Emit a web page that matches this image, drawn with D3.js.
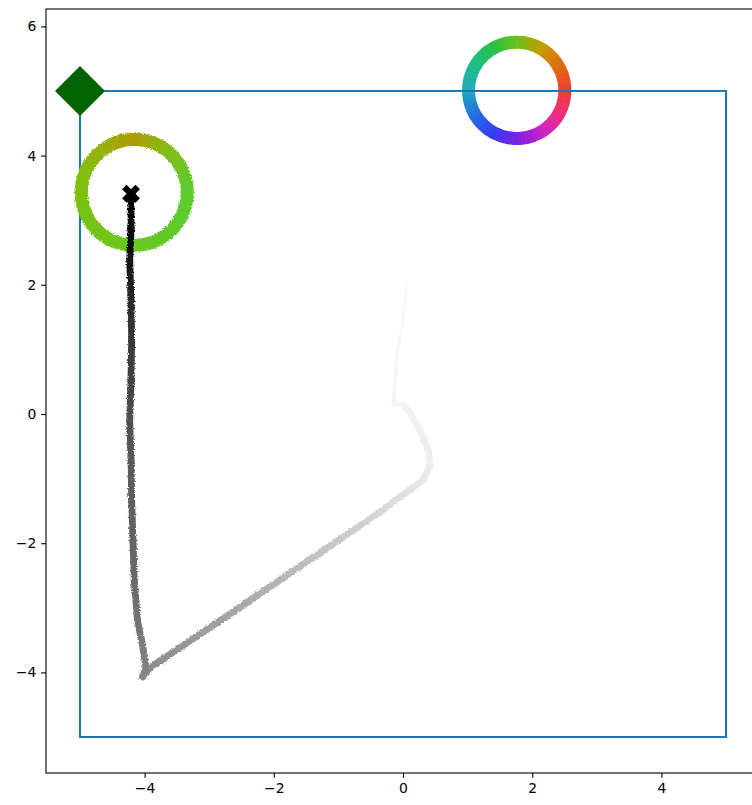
<!DOCTYPE html>
<html>
<head>
<meta charset="utf-8">
<script src="https://cdn.jsdelivr.net/npm/d3@7"></script>
<style>
  html, body { margin: 0; padding: 0; background: #fff; }
  svg { display: block; font-family: "DejaVu Sans", sans-serif; }
</style>
</head>
<body>
<svg id="chart" width="752" height="805"></svg>
<script>
// ---- data ----
const xTicks = [-4, -2, 0, 2, 4];
const yTicks = [-4, -2, 0, 2, 4, 6];

// arena boundary
const boxX = [-5, 5, 5, -5, -5];
const boxY = [5, 5, -5, -5, 5];

// goal marker
const goal = { x: -5, y: 5 };

// agent trajectory (progress 0 = start, 1 = end)
const trajX = [-4.21, -4.21, -4.23, -4.21, -4.20, -4.21, -4.23, -4.21, -4.20, -4.18, -4.16, -4.11, -4.02, -3.98, -4.03,
               -3.92, -2.52, -0.98, -0.36, 0.31, 0.42, 0.39, 0.26, 0.11, 0.00, -0.15, -0.09, 0.00, 0.06];
const trajY = [3.41, 2.85, 2.38, 1.76, 1.15, 0.53, -0.09, -0.71, -1.33, -1.95, -2.57, -3.19, -3.65, -3.93, -4.07,
               -3.93, -2.99, -1.94, -1.52, -1.02, -0.80, -0.56, -0.25, 0.02, 0.15, 0.15, 0.94, 1.46, 2.03];
const trajProgress = [0.00, 0.04, 0.08, 0.16, 0.22, 0.26, 0.31, 0.35, 0.37, 0.39, 0.41, 0.45, 0.49, 0.51, 0.53,
                      0.55, 0.66, 0.79, 0.84, 0.91, 0.925, 0.933, 0.94, 0.95, 0.953, 0.957, 0.965, 0.973, 0.98];

// sensing ring around the agent start
const agentRing = { x: -4.16, y: 3.43, r: 0.82 };
const agentRingAngles = [0, 30, 60, 90, 120, 150, 180, 210, 240, 270, 300, 330];
const agentRingColors = ["#5ccc2c", "#70c420", "#8cb812", "#ac9c04", "#9cac08", "#88ba08",
                         "#7cc010", "#76c212", "#70c418", "#68c820", "#62c826", "#5ecb2a"];

// heading colour wheel
const wheel = { x: 1.76, y: 5.01, r: 0.745 };
const wheelAngles = [0, 30, 60, 90, 120, 150, 180, 210, 240, 270, 300, 330];
const wheelColors = ["#f03c30", "#e06c10", "#c49c00", "#68c018", "#28c048", "#1cc088",
                     "#22a8bc", "#2070e4", "#3040f0", "#7a20e2", "#c622cc", "#f02c80"];

// ---- layout ----
const svg = d3.select("#chart");
const plotLeft = 46, plotRight = 760, plotTop = 9, plotBottom = 773;
const x = d3.scaleLinear().domain([-5.526, 5.526]).range([plotLeft, plotRight]);
const y = d3.scaleLinear().domain([-5.557, 6.269]).range([plotBottom, plotTop]);

const defs = svg.append("defs");
const rough = defs.append("filter").attr("id", "rough")
  .attr("x", "-10%").attr("y", "-10%").attr("width", "120%").attr("height", "120%");
rough.append("feTurbulence").attr("type", "fractalNoise").attr("baseFrequency", 0.7)
  .attr("numOctaves", 2).attr("seed", 3).attr("result", "noise");
rough.append("feDisplacementMap").attr("in", "SourceGraphic").attr("in2", "noise")
  .attr("scale", 3.5).attr("xChannelSelector", "R").attr("yChannelSelector", "G").attr("result", "disp");
rough.append("feGaussianBlur").attr("in", "disp").attr("stdDeviation", 0.5);

const plot = svg.append("g");

// ring of coloured arcs, blending between listed colour stops
function drawRing(g, ring, angles, colors, widthPx, filter) {
  const cx = x(ring.x), cy = y(ring.y);
  const rPx = x(ring.x + ring.r) - x(ring.x);
  const arc = d3.arc().innerRadius(rPx - widthPx / 2).outerRadius(rPx + widthPx / 2);
  const grp = g.append("g").attr("transform", `translate(${cx},${cy})`);
  if (filter) grp.attr("filter", filter);
  const sub = 6;
  angles.forEach((a, i) => {
    const aNext = i + 1 < angles.length ? angles[i + 1] : angles[0] + 360;
    const interp = d3.interpolateRgb(colors[i], colors[(i + 1) % colors.length]);
    for (let j = 0; j < sub; j++) {
      const a0 = a + (aNext - a) * j / sub;
      const a1 = a + (aNext - a) * (j + 1) / sub + 0.6;
      grp.append("path")
        .attr("d", arc({ startAngle: Math.PI / 2 - a1 * Math.PI / 180, endAngle: Math.PI / 2 - a0 * Math.PI / 180 }))
        .attr("fill", interp((j + 0.5) / sub));
    }
  });
}

// heading wheel sits beneath the boundary
drawRing(plot, wheel, wheelAngles, wheelColors, 13, null);

// boundary
plot.append("path")
  .attr("d", d3.line().x(d => x(d[0])).y(d => y(d[1]))(d3.zip(boxX, boxY)))
  .attr("fill", "none").attr("stroke", "#1f77b4").attr("stroke-width", 2.1)
  .attr("stroke-linejoin", "miter");

// sensing ring
drawRing(plot, agentRing, agentRingAngles, agentRingColors, 13, "url(#rough)");

// trajectory: black at start fading to white
const shade = d3.scaleLinear().domain([0, 1]).range(["#000000", "#ffffff"]);
const trajG = plot.append("g").attr("filter", "url(#rough)");
const pts = d3.range(trajX.length).map(i => ({ px: x(trajX[i]), py: y(trajY[i]), t: trajProgress[i] }));
for (let i = pts.length - 2; i >= 0; i--) {
  const p = pts[i], q = pts[i + 1];
  const id = "seg" + i;
  const grad = defs.append("linearGradient").attr("id", id)
    .attr("gradientUnits", "userSpaceOnUse")
    .attr("x1", p.px).attr("y1", p.py).attr("x2", q.px).attr("y2", q.py);
  grad.append("stop").attr("offset", 0).attr("stop-color", shade(p.t));
  grad.append("stop").attr("offset", 1).attr("stop-color", shade(q.t));
  const w = i >= 24 ? 3.5 : 6.8;
  trajG.append("line")
    .attr("x1", p.px).attr("y1", p.py).attr("x2", q.px).attr("y2", q.py)
    .attr("stroke", `url(#${id})`).attr("stroke-width", w).attr("stroke-linecap", "round");
}

// start marker
plot.append("path")
  .attr("d", d3.symbol().type(d3.symbolCross).size(200)())
  .attr("transform", `translate(${x(trajX[0])},${y(trajY[0])}) rotate(45)`)
  .attr("fill", "#000");

// goal marker
plot.append("path")
  .attr("d", d3.symbol().type(d3.symbolSquare).size(1250)())
  .attr("transform", `translate(${x(goal.x)},${y(goal.y)}) rotate(45)`)
  .attr("fill", "#006400");

// ---- axes ----
const tickLen = 4.86;
const xAxis = svg.append("g").attr("transform", `translate(0,${plotBottom})`)
  .call(d3.axisBottom(x).tickValues(xTicks).tickSize(tickLen).tickPadding(4.8).tickSizeOuter(0));
const yAxis = svg.append("g").attr("transform", `translate(${plotLeft},0)`)
  .call(d3.axisLeft(y).tickValues(yTicks).tickSize(tickLen).tickPadding(4.8).tickSizeOuter(0));
[xAxis, yAxis].forEach(a => {
  a.select(".domain").remove();
  a.selectAll(".tick line").attr("stroke", "#000").attr("stroke-width", 1.1);
  a.selectAll(".tick text").attr("fill", "#000").style("font-size", "13.9px")
    .style("font-family", "'DejaVu Sans', sans-serif");
});

// frame
svg.append("rect")
  .attr("x", plotLeft).attr("y", plotTop).attr("width", plotRight - plotLeft).attr("height", plotBottom - plotTop)
  .attr("fill", "none").attr("stroke", "#000").attr("stroke-width", 1.1);
</script>
</body>
</html>
